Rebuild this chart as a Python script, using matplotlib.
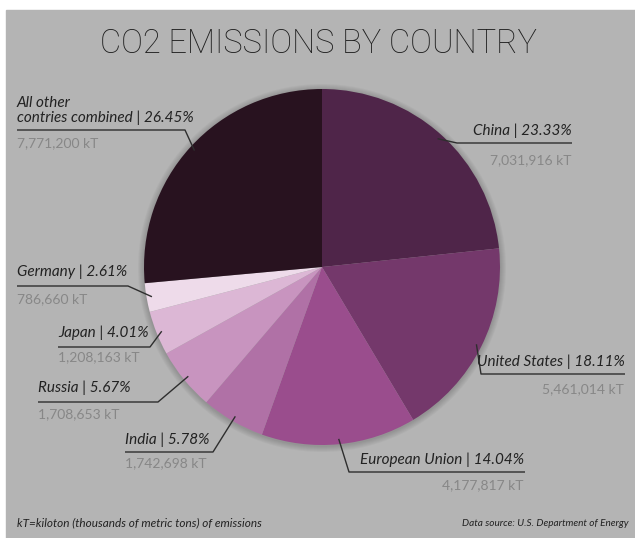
import matplotlib as mpl
mpl.use('Agg')
import matplotlib.pyplot as plt
from matplotlib.patches import Rectangle, Circle
import numpy as np

# data, clockwise from 12 o'clock
names = ['China', 'United States', 'European Union', 'India', 'Russia',
         'Japan', 'Germany', 'All other\ncontries combined']
pcts = [23.33, 18.11, 14.04, 5.78, 5.67, 4.01, 2.61, 26.45]
kts = ['7,031,916', '5,461,014', '4,177,817', '1,742,698', '1,708,653',
       '1,208,163', '786,660', '7,771,200']
colors = ['#4f2549', '#74386b', '#9a4d8d', '#b071a6', '#c894bf',
          '#dcb7d5', '#eedbea', '#28121f']

W, H = 635, 538

# label layout in pixel coords: text x, text y, align, underline x0, x1, underline y, value y
layout = [
    (572, 131, 'right', 457, 572, 143, 160),
    (625, 362, 'right', 481, 625, 374, 389),
    (524, 460, 'right', 349, 525, 472, 485),
    (125, 440, 'left', 125, 213, 452, 463),
    (38, 388, 'left', 38, 158, 402, 414),
    (58, 333, 'left', 58, 150, 347, 357),
    (17, 272, 'left', 17, 128, 286, 299),
    (17, 118, 'left', 17, 185, 130, 143),
]

def Y(y):
    return H - y

fig = plt.figure(figsize=(W/100., H/100.), dpi=100, facecolor='white')
ax = fig.add_axes([0, 0, 1, 1])
ax.axis('off')

# gray panel
ax.add_patch(Rectangle((6, 0), W - 6, H - 10, color='#b4b4b4', zorder=0))

cx, cy, R = 322, Y(267), 178

# soft shadow round the pie
for k in range(1, 7):
    ax.add_patch(Circle((cx, cy - 1), R + k, color='#3a3a3a', alpha=0.045, lw=0, zorder=1))

wedges, _ = ax.pie(pcts, colors=colors, startangle=90, counterclock=False,
                   radius=R, center=(cx, cy), wedgeprops=dict(linewidth=0, zorder=2))
ax.set_aspect('auto')
ax.set_xlim(0, W)
ax.set_ylim(0, H)

ink = '#222222'
fam = ['Lato', 'DejaVu Sans']

for w, name, p, kt, lay in zip(wedges, names, pcts, kts, layout):
    tx, ty, ha, x0, x1, uy, vy = lay
    label = '%s | %.2f%%' % (name, p)
    if '\n' in name:
        first, second = name.split('\n')
        ax.text(tx, Y(ty - 15), first, ha=ha, va='center', fontsize=11,
                style='italic', color=ink, family=fam, zorder=5)
        label = '%s | %.2f%%' % (second, p)
    ax.text(tx, Y(ty), label, ha=ha, va='center', fontsize=11,
            style='italic', color=ink, family=fam, zorder=5)
    ax.text(tx if ha == 'left' else tx - 1, Y(vy), kt + ' kT', ha=ha, va='center',
            fontsize=10, color='#878787', family=fam, zorder=5)

    # leader line: underline, then diagonal into the wedge
    mid = np.deg2rad((w.theta1 + w.theta2) / 2.)
    px = cx + 0.97 * R * np.cos(mid)
    py = cy + 0.97 * R * np.sin(mid)
    if ha == 'left':
        xs = [x0, x1, px]
        ys = [Y(uy), Y(uy), py]
    else:
        xs = [x1, x0, px]
        ys = [Y(uy), Y(uy), py]
    ax.plot(xs, ys, color='#2e2e2e', lw=1.0, zorder=4, solid_capstyle='butt')

ax.text(318, Y(44), 'CO2 EMISSIONS BY COUNTRY', ha='center', va='center',
        fontsize=23.5, fontweight='light', color='#1e1e1e', family=['Roboto', 'DejaVu Sans'])

ax.text(17, Y(523), 'kT=kiloton (thousands of metric tons) of emissions', ha='left',
        va='center', fontsize=8.5, style='italic', color=ink, family=fam)
ax.text(628, Y(523), 'Data source: U.S. Department of Energy', ha='right',
        va='center', fontsize=7.2, style='italic', color=ink, family=fam)

fig.savefig('out.png', dpi=100, facecolor='white')
